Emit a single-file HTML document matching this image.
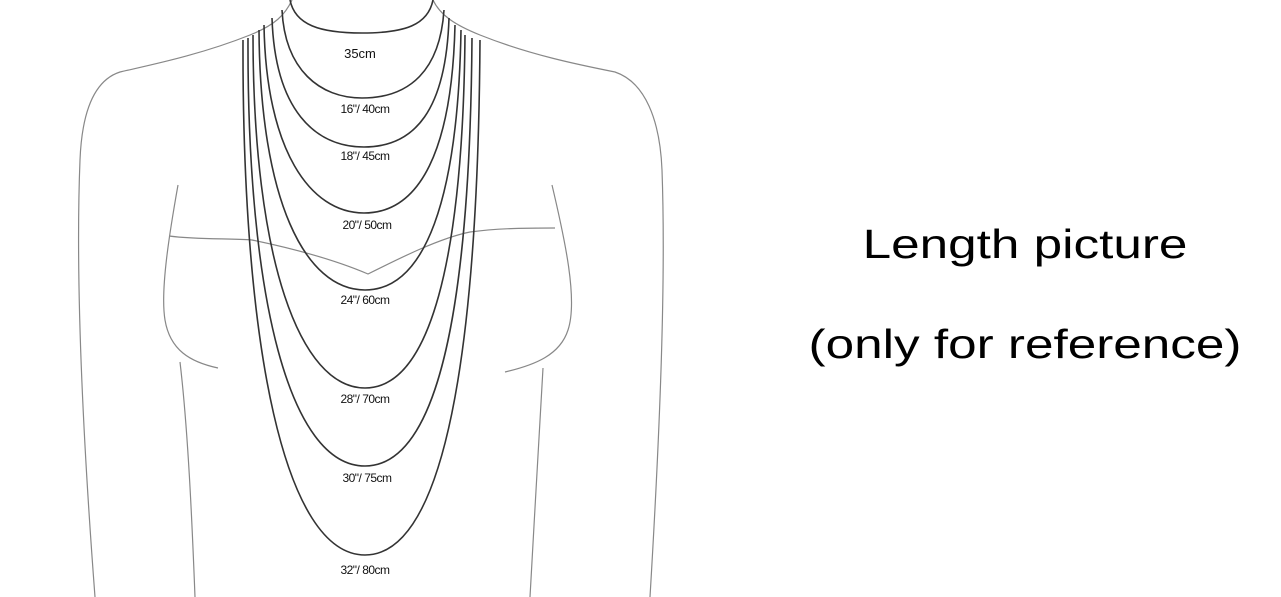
<!DOCTYPE html>
<html><head><meta charset="utf-8"><style>
html,body{margin:0;padding:0;background:#fff;width:1281px;height:597px;overflow:hidden}
svg{position:absolute;left:0;top:0}
.t{position:absolute;font-family:"Liberation Sans",sans-serif;color:#111;white-space:nowrap;text-align:center}
.big{font-size:41px;line-height:41px;width:600px;left:725px;transform:scaleX(1.25);transform-origin:50% 50%;color:#000}
</style></head><body>
<svg width="1281" height="597" viewBox="0 0 1281 597">
<g fill="none" stroke="#888" stroke-width="1.2">
<path d="M292,0 C285,15 275,25 250,35 C200,55 150,65 120,72 C95,80 82,110 80,160 C76,260 80,400 95,597"/>
<path d="M433,0 C440,15 455,25 480,35 C530,55 580,65 615,72 C645,82 660,120 662,170 C666,280 660,430 650,597"/>
<path d="M178,185 C170,230 160,290 165,320 C170,350 190,362 218,368"/>
<path d="M180,362 C188,430 192,520 195,597"/>
<path d="M552,185 C565,240 578,300 568,330 C560,355 535,365 505,372"/>
<path d="M543,368 C540,430 534,520 530,597"/>
<path d="M169,236 C200,240 230,238 252,240 C300,250 340,262 368,274 C400,258 440,238 470,232 C500,228 530,228 555,228"/>
</g>
<g fill="none" stroke="#333" stroke-width="1.6">
<path d="M290,0 C295,25 320,33 362,33 C405,33 428,25 433,0"/>
<path d="M282,10 C285,70 320,98 362,98 C410,98 440,70 444,10"/>
<path d="M272,18 C275,110 315,147 364,147 C415,147 446,110 449,18"/>
<path d="M264,25 C266,150 310,213 364,213 C420,213 452,150 455,25"/>
<path d="M259,30 C260,200 305,290 365,290 C425,290 458,200 461,30"/>
<path d="M253,35 C253,260 300,388 365,388 C430,388 463,260 465,35"/>
<path d="M248,38 C247,300 290,466 365,466 C440,466 470,300 472,38"/>
<path d="M243,40 C242,350 285,555 365,555 C445,555 478,350 480,40"/>
</g>
</svg>
<div class="t" style="left:320px;top:46px;width:80px;font-size:13px">35cm</div>
<div class="t" style="left:320px;top:102px;width:90px;font-size:12px;letter-spacing:-0.5px">16"/ 40cm</div>
<div class="t" style="left:320px;top:149px;width:90px;font-size:12px;letter-spacing:-0.5px">18"/ 45cm</div>
<div class="t" style="left:322px;top:218px;width:90px;font-size:12px;letter-spacing:-0.5px">20"/ 50cm</div>
<div class="t" style="left:320px;top:293px;width:90px;font-size:12px;letter-spacing:-0.5px">24"/ 60cm</div>
<div class="t" style="left:320px;top:392px;width:90px;font-size:12px;letter-spacing:-0.5px">28"/ 70cm</div>
<div class="t" style="left:322px;top:471px;width:90px;font-size:12px;letter-spacing:-0.5px">30"/ 75cm</div>
<div class="t" style="left:320px;top:563px;width:90px;font-size:12px;letter-spacing:-0.5px">32"/ 80cm</div>
<div class="t big" style="top:224px">Length picture</div>
<div class="t big" style="top:324px">(only for reference)</div>
</body></html>
